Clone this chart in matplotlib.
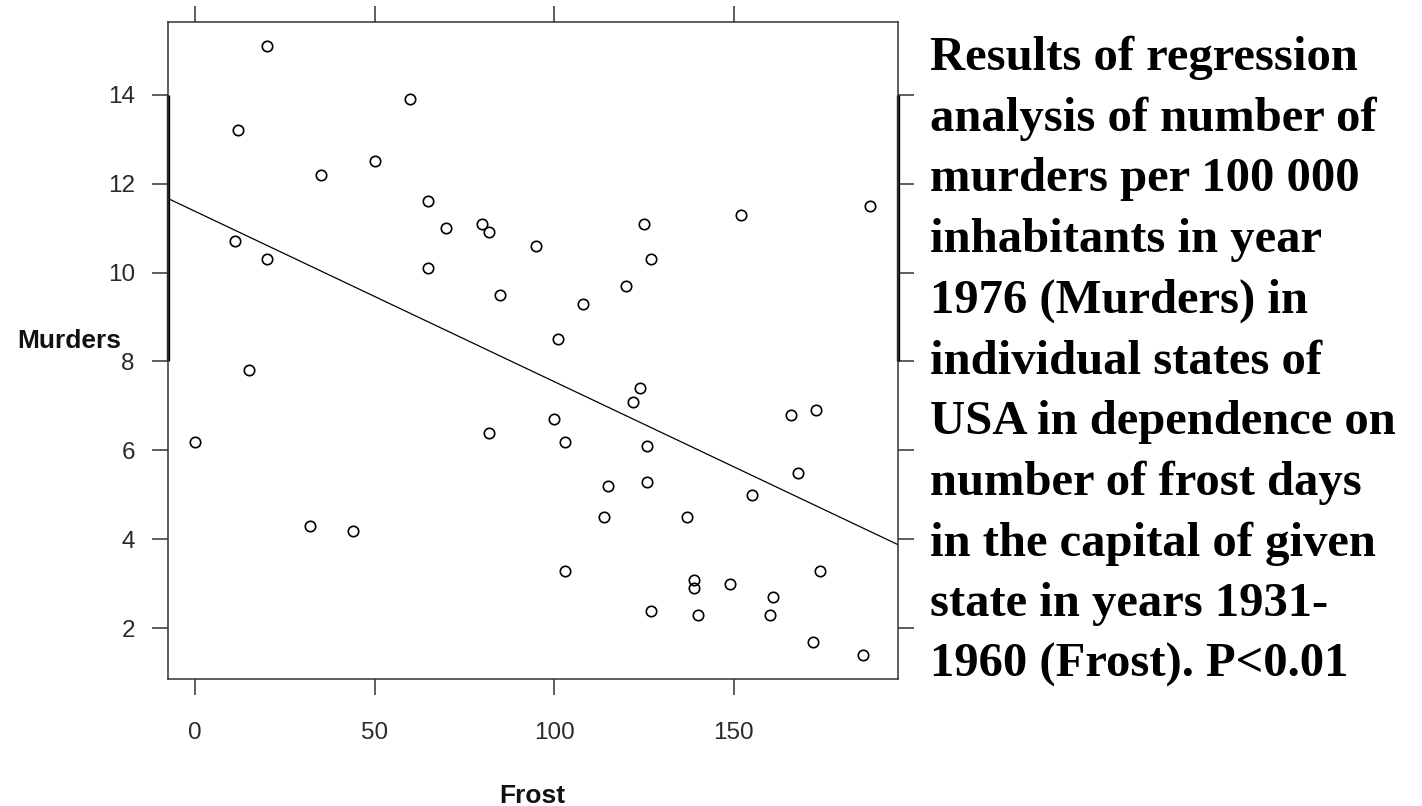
import numpy as np
import matplotlib
matplotlib.use("Agg")
import matplotlib.pyplot as plt
import matplotlib.transforms as mtransforms

# ---- data (Frost days vs. murders per 100 000, US states 1976) ----
frost = [20, 152, 15, 65, 20, 166, 139, 103, 11, 60, 0, 126, 127, 122, 140,
         114, 95, 12, 161, 101, 103, 125, 160, 50, 108, 155, 139, 188, 174,
         115, 120, 82, 80, 186, 124, 82, 44, 126, 127, 65, 172, 70, 35, 137,
         168, 85, 32, 100, 149, 173]
murders = [15.1, 11.3, 7.8, 10.1, 10.3, 6.8, 3.1, 6.2, 10.7, 13.9, 6.2, 5.3,
           10.3, 7.1, 2.3, 4.5, 10.6, 13.2, 2.7, 8.5, 3.3, 11.1, 2.3, 12.5,
           9.3, 5.0, 2.9, 11.5, 3.3, 5.2, 9.7, 10.9, 11.1, 1.4, 7.4, 6.4, 4.2,
           6.1, 2.4, 11.6, 1.7, 11.0, 12.2, 4.5, 5.5, 9.5, 4.3, 6.7, 3.0, 6.9]

xticks = [0, 50, 100, 150]
yticks = [2, 4, 6, 8, 10, 12, 14]
xlabel = "Frost"
ylabel = "Murders"
caption_lines = [
    "Results of regression",
    "analysis of number of",
    "murders per 100 000",
    "inhabitants in year",
    "1976 (Murders) in",
    "individual states of",
    "USA in dependence on",
    "number of frost days",
    "in the capital of given",
    "state in years 1931-",
    "1960 (Frost). P<0.01",
]

W, H = 1422, 806
fig = plt.figure(figsize=(W / 100, H / 100), dpi=100)
fig.patch.set_facecolor("white")

left, right, top, bottom = 167.5, 897.7, 22.0, 679.0
ax = fig.add_axes([left / W, 1 - bottom / H, (right - left) / W, (bottom - top) / H])

ax.set_xlim(-7.66, 195.7)
ax.set_ylim(0.864, 15.63)

spine_col = "#333333"
for s in ax.spines.values():
    s.set_color(spine_col)
    s.set_linewidth(1.1)

# points
ax.plot(frost, murders, linestyle="none", marker="o", ms=7.5, mfc="none",
        mec="black", mew=1.2)

# regression line
slope, intercept = np.polyfit(np.array(frost, float), np.array(murders, float), 1)
xl = np.array(ax.get_xlim())
ax.plot(xl, intercept + slope * xl, color="black", lw=0.9, clip_on=True)

# ticks
ax.set_xticks(xticks)
ax.set_yticks(yticks)
ax.tick_params(axis="both", which="major", direction="out", length=11.5,
               width=1.1, color=spine_col, top=True, right=True,
               labeltop=False, labelright=False)
ax.tick_params(axis="x", pad=19.5)
ax.tick_params(axis="y", pad=12)
for lab in ax.get_xticklabels() + ax.get_yticklabels():
    lab.set_fontfamily("Liberation Sans")
    lab.set_fontsize(17.5)
    lab.set_color("#2a2a2a")

# thicker spine segments (as in the original rendering)
trans_l = mtransforms.blended_transform_factory(ax.transAxes, ax.transData)
ax.plot([0, 0], [yticks[3], yticks[-1]], transform=trans_l, color="black",
        lw=2.4, clip_on=False, solid_capstyle="butt")
ax.plot([1, 1], [yticks[3], yticks[-1]], transform=trans_l, color="black",
        lw=2.4, clip_on=False, solid_capstyle="butt")

# axis labels
fig.text(17 / W, 1 - 341 / H, ylabel, ha="left", va="center",
         fontfamily="Liberation Sans", fontweight="bold", fontsize=19,
         color="#111111")
fig.text(532.6 / W, 1 - 796 / H, xlabel, ha="center", va="center",
         fontfamily="Liberation Sans", fontweight="bold", fontsize=19,
         color="#111111")

# caption on the right
y0, dy = 70.0, 60.7
for i, line in enumerate(caption_lines):
    fig.text(930 / W, 1 - (y0 + i * dy) / H, line, ha="left", va="baseline",
             fontfamily="Liberation Serif", fontweight="bold", fontsize=35,
             color="black")

fig.savefig("out.png", dpi=100, facecolor="white")
